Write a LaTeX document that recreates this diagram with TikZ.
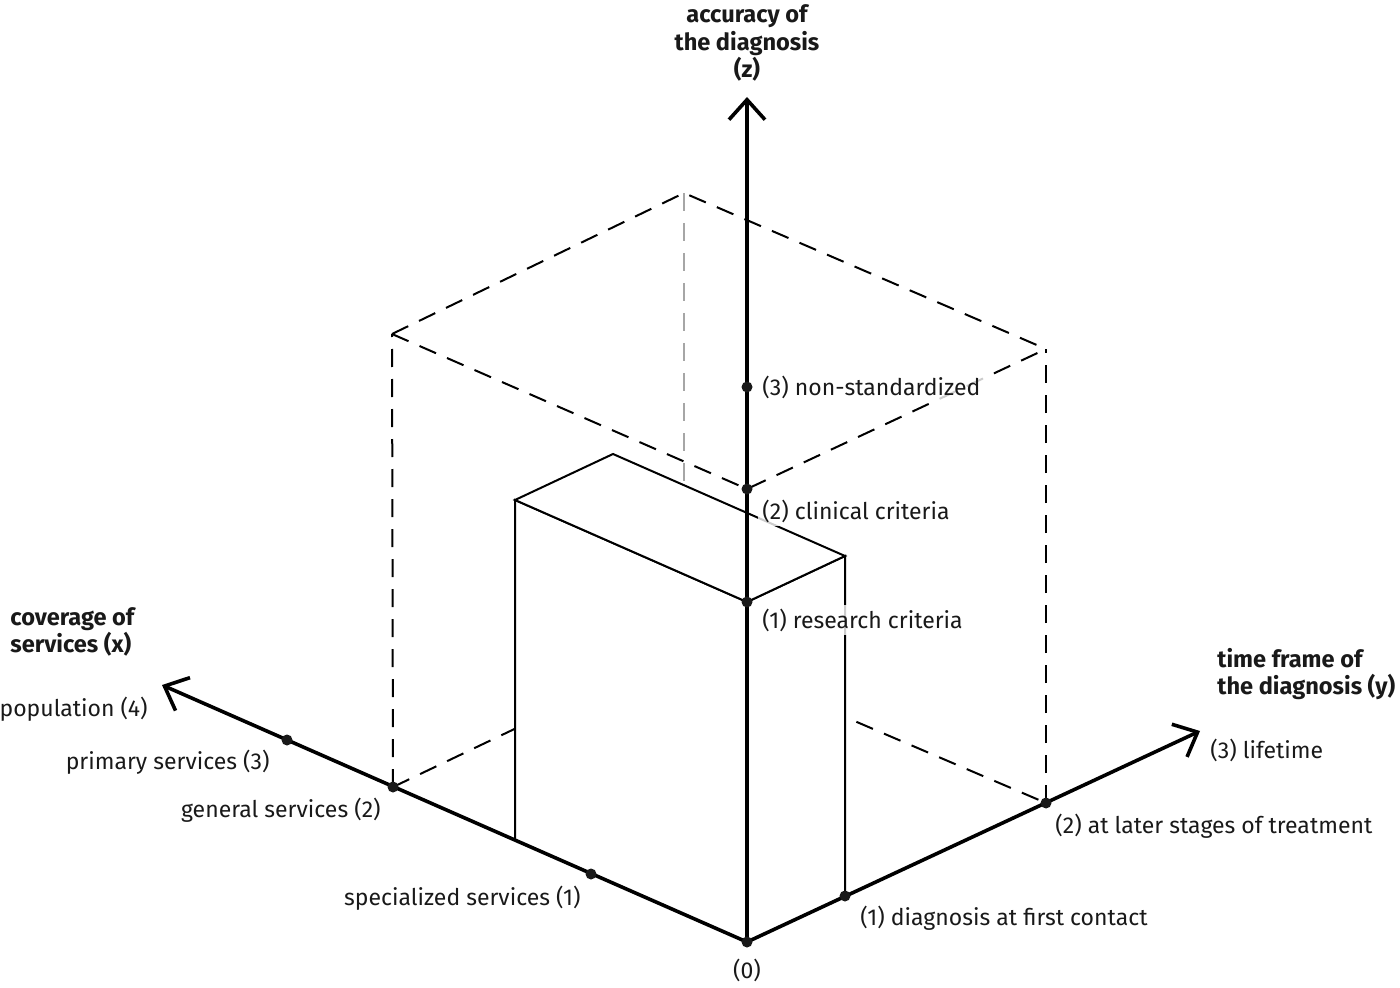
\documentclass[tikz,border=0pt]{standalone}
\usepackage{fontspec}
\setmainfont{Fira Sans}
\usetikzlibrary{arrows.meta}
\begin{document}
\begin{tikzpicture}[x=0.5pt,y=-0.5pt,
  axisline/.style={line width=1.8pt, -{Straight Barb[length=10pt,width=18pt,line width=1.8pt]}},
  dot/.style={circle, fill=black!90, inner sep=0pt, minimum size=5.5pt},
  cubeline/.style={line width=1pt, dash pattern=on 9pt off 6pt},
  backline/.style={line width=0.6pt, black!35, dash pattern=on 9pt off 6pt},
  boxline/.style={line width=1pt, fill=white, line join=miter},
  lbl/.style={font=\fontsize{11.5pt}{14pt}\selectfont, inner sep=2pt, text=black!90},
  lblw/.style={lbl, fill=white, fill opacity=0.8, text opacity=1},
  ttl/.style={font=\fontsize{11.8pt}{13.8pt}\selectfont\bfseries, inner sep=0pt, text=black!90}
]
\useasboundingbox (0,0) rectangle (1400,988);
% points
\coordinate (o) at (747,942);
\coordinate (xtip) at (162,685);
\coordinate (ytip) at (1200,731);
\coordinate (ztip) at (747,97);
% cube corners
\coordinate (tl) at (392,334);
\coordinate (tb) at (684,193);
\coordinate (tr) at (1046,349);
\coordinate (bb) at (684,648);
% box corners
\coordinate (bl) at (515,840);
\coordinate (blt) at (515,500);
\coordinate (bbt) at (613,454);
\coordinate (br) at (845,896);
\coordinate (brt) at (845,556);
\coordinate (z1c) at (747,602);
% dashed cube
\draw[backline] (tb) -- (bb);
\draw[cubeline] (tl) -- (tb) -- (tr);
\draw[cubeline] (tl) -- (747,489) -- (tr);
\draw[cubeline] (393,787) -- (tl);
\draw[cubeline] (1046,803) -- (tr);
\draw[cubeline] (393,787) -- (bb) -- (1046,803);
% solid box
\draw[boxline] (blt) -- (z1c) -- (o) -- (bl) -- cycle;
\draw[boxline] (z1c) -- (brt) -- (br) -- (o) -- cycle;
\draw[boxline] (blt) -- (bbt) -- (brt) -- (z1c) -- cycle;
% labels (drawn before axes so the axis stays on top)
\node[lblw, anchor=west] (lz3) at (758,387) {(3) non-standardized};
\node[lblw, anchor=west] (lz2) at (758,511) {(2) clinical criteria};
\node[lblw, anchor=west] (lz1) at (758,620) {(1) research criteria};
% axes
\draw[axisline] (o) -- (xtip);
\draw[axisline] (o) -- (ytip);
\draw[axisline] (o) -- (ztip);
% dots
\node[dot] (p0) at (o) {};
\node[dot] (x1) at (591,874) {};
\node[dot] (x2) at (393,787) {};
\node[dot] (x3) at (287,740) {};
\node[dot] (y1) at (845,896) {};
\node[dot] (y2) at (1046,803) {};
\node[dot] (z1) at (747,602) {};
\node[dot] (z2) at (747,489) {};
\node[dot] (z3) at (747,387) {};
% titles
\node[ttl, align=center] (tz) at (747,43) {accuracy of\\the diagnosis\\(z)};
\node[ttl, align=left, anchor=west] (tx) at (10,632) {coverage of\\services (x)};
\node[ttl, align=left, anchor=west] (ty) at (1217,674) {time frame of\\the diagnosis (y)};
% value labels
\node[lbl, anchor=east] (lx4) at (152,709) {population (4)};
\node[lbl, anchor=east] (lx3) at (274,762) {primary services (3)};
\node[lbl, anchor=east] (lx2) at (385,810) {general services (2)};
\node[lbl, anchor=east] (lx1) at (585,898) {specialized services (1)};
\node[lbl] (l0) at (747,970) {(0)};
\node[lbl, anchor=west] (ly1) at (856,918) {(1) diagnosis at first contact};
\node[lbl, anchor=west] (ly2) at (1051,826) {(2) at later stages of treatment};
\node[lbl, anchor=west] (ly3) at (1206,750) {(3) lifetime};
\end{tikzpicture}
\end{document}
